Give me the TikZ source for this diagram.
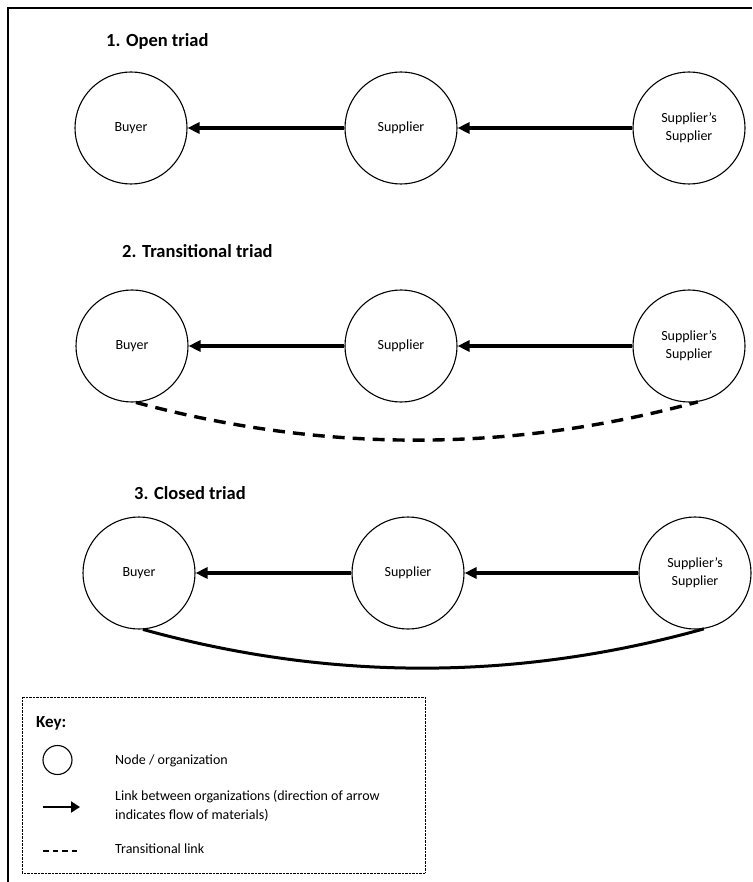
\documentclass[tikz,border=0pt]{standalone}
\usepackage{fontspec}
\setmainfont{Carlito}
\usetikzlibrary{arrows.meta,calc}
\begin{document}
\begin{tikzpicture}[x=1pt,y=-1pt,
  org/.style={circle, draw, line width=1.1pt, minimum size=112pt, inner sep=0pt, align=center, font=\fontsize{14}{18}\selectfont},
  triadtitle/.style={anchor=west, inner sep=0pt, font=\fontsize{18.5}{22}\selectfont\bfseries},
  flow/.style={line width=3.6pt, -{Triangle[length=12pt,width=11pt]}},
  translink/.style={line width=3.4pt, dash pattern=on 12pt off 8pt},
  closedlink/.style={line width=3pt},
  keytext/.style={anchor=west, inner sep=0pt, align=left, font=\fontsize{14}{19}\selectfont},
  frame/.style={line width=2.5pt},
  keybox/.style={line width=0.8pt, dash pattern=on 0.7pt off 0.7pt}
]
\useasboundingbox (0,0) rectangle (752,882);
% outer frame (top and left only)
\draw[frame] (752,8) -- (8,8) -- (8,882);

% Row 1
\node[triadtitle] (t1) at (106,41) {1. Open triad};
\node[org] (b1) at (131,128) {Buyer};
\node[org] (s1) at (401,128) {Supplier};
\node[org] (ss1) at (689,128) {Supplier’s\\Supplier};
\draw[flow] (s1) -- (b1);
\draw[flow] (ss1) -- (s1);

% Row 2
\node[triadtitle] (t2) at (122,251) {2. Transitional triad};
\node[org] (b2) at (132,346) {Buyer};
\node[org] (s2) at (401,346) {Supplier};
\node[org] (ss2) at (689,346) {Supplier’s\\Supplier};
\draw[flow] (s2) -- (b2);
\draw[flow] (ss2) -- (s2);
\coordinate (q2) at ($(b2.-86)!0.5!(ss2.-81)+(0,76)$);
\draw[translink] (b2.-86) .. controls ($(b2.-86)!0.6667!(q2)$) and ($(ss2.-81)!0.6667!(q2)$) .. (ss2.-81);

% Row 3
\node[triadtitle] (t3) at (134,493) {3. Closed triad};
\node[org] (b3) at (139,573) {Buyer};
\node[org] (s3) at (408,573) {Supplier};
\node[org] (ss3) at (695,573) {Supplier’s\\Supplier};
\draw[flow] (s3) -- (b3);
\draw[flow] (ss3) -- (s3);
\coordinate (q3) at ($(b3.-86)!0.5!(ss3.-81)+(0,78)$);
\draw[closedlink] (b3.-86) .. controls ($(b3.-86)!0.6667!(q3)$) and ($(ss3.-81)!0.6667!(q3)$) .. (ss3.-81);

% Key
\draw[keybox] (22,697) rectangle (425,873);
\node[triadtitle, font=\fontsize{17}{20}\selectfont\bfseries] (key) at (36,723) {Key:};
\node[circle, draw, line width=1.1pt, minimum size=29pt, inner sep=0pt] (kc) at (57.5,760) {};
\node[keytext] (k1) at (115,761) {Node / organization};
\coordinate (ka) at (43,807);
\coordinate (kb) at (80,807);
\draw[line width=2pt, -{Triangle[length=9pt,width=11pt]}] (ka) -- (kb);
\node[keytext] (k2) at (115,806) {Link between organizations (direction of arrow\\indicates flow of materials)};
\coordinate (kd1) at (43,851);
\coordinate (kd2) at (79,851);
\draw[line width=1.1pt, dash pattern=on 5.5pt off 4pt] (kd1) -- (kd2);
\node[keytext] (k3) at (115,849) {Transitional link};
\end{tikzpicture}
\end{document}
